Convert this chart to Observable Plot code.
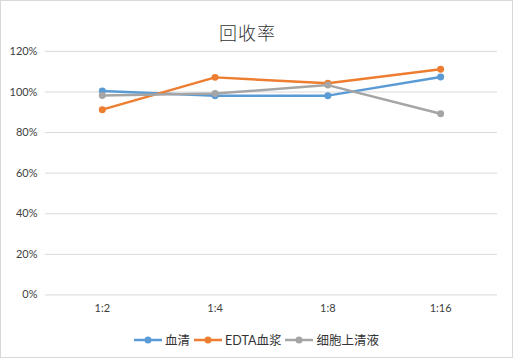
<!DOCTYPE html>
<html><head><meta charset="utf-8">
<script src="https://cdn.jsdelivr.net/npm/d3@7"></script>
<script src="https://cdn.jsdelivr.net/npm/@observablehq/plot@0.6"></script>
<style>
html,body{margin:0;padding:0;background:#fff;}
#wrap{position:relative;width:513px;height:358px;box-sizing:border-box;border:1px solid #d9d9d9;overflow:hidden;font-family:Lato,"Noto Sans CJK SC",sans-serif;}
#chart{position:absolute;left:-1px;top:-1px;}
#title{position:absolute;left:0;width:493px;top:18px;text-align:center;font-size:18px;letter-spacing:1px;color:#333;font-family:"Noto Sans CJK SC",sans-serif;font-weight:300;}
#legend{position:absolute;left:0;width:511px;top:329px;display:flex;justify-content:center;align-items:center;font-size:12.5px;color:#333;font-family:Lato,"Noto Sans CJK SC",sans-serif;}
#legend .item{display:flex;align-items:center;margin:0 2px;}
#legend svg{margin-right:3px;}
</style></head>
<body>
<div id="wrap">
<div id="chart"></div>
<div id="title">回收率</div>
<div id="legend"></div>
</div>
<script>
const categories = ["1:2", "1:4", "1:8", "1:16"];
const seriesNames = ["血清", "EDTA血浆", "细胞上清液"];
const seriesColors = ["#5B9BD5", "#ED7D31", "#A5A5A5"];
const serum = [100.5, 98.2, 98.2, 107.4];
const edta = [91.3, 107.2, 104.3, 111.2];
const cellSupernatant = [98.3, 99.2, 103.4, 89.3];
const yTicks = [0, 20, 40, 60, 80, 100, 120];

const allSeries = [serum, edta, cellSupernatant];
const data = [];
allSeries.forEach((vals, i) => vals.forEach((v, j) => data.push({s: seriesNames[i], c: categories[j], v})));

const chart = Plot.plot({
  width: 513, height: 358,
  marginTop: 51, marginBottom: 63, marginLeft: 45, marginRight: 15,
  style: {fontFamily: 'Lato, "Noto Sans CJK SC", sans-serif', fontSize: "11px", color: "#404040", background: "transparent"},
  x: {type: "point", domain: categories, padding: 0.5, label: null},
  y: {domain: [0, 1.2], label: null},
  color: {domain: seriesNames, range: seriesColors},
  marks: [
    Plot.gridY(yTicks.map(t => t / 100), {stroke: "#d9d9d9", strokeOpacity: 1, strokeWidth: 1}),
    Plot.axisY(yTicks.map(t => t / 100), {tickSize: 0, tickPadding: 8, tickFormat: d3.format(".0%"), label: null, fill: "#404040"}),
    Plot.axisX({tickSize: 0, tickPadding: 9, label: null, fill: "#404040"}),
    Plot.line(data, {x: "c", y: d => d.v / 100, z: "s", stroke: "s", strokeWidth: 2.5}),
    Plot.dot(data, {x: "c", y: d => d.v / 100, fill: "s", r: 3.5})
  ]
});
document.getElementById("chart").appendChild(chart);

const legend = document.getElementById("legend");
seriesNames.forEach((name, i) => {
  const item = document.createElement("div");
  item.className = "item";
  item.innerHTML = `<svg width="28" height="10"><line x1="0" x2="28" y1="5" y2="5" stroke="${seriesColors[i]}" stroke-width="2.5"/><circle cx="14" cy="5" r="3.5" fill="${seriesColors[i]}"/></svg><span>${name}</span>`;
  legend.appendChild(item);
});
</script>
</body></html>
